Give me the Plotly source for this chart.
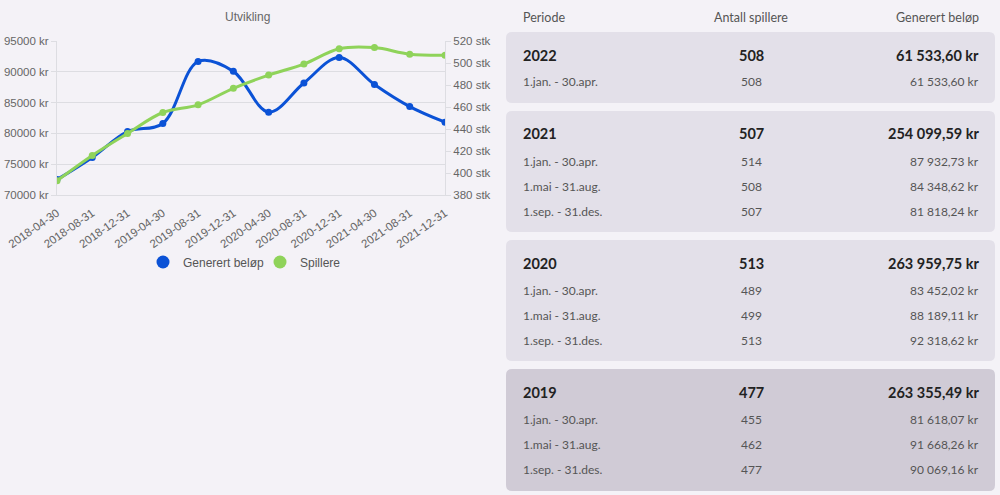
import plotly.graph_objects as go

# ---------------- data ----------------
periods = ["2018-04-30", "2018-08-31", "2018-12-31", "2019-04-30", "2019-08-31",
           "2019-12-31", "2020-04-30", "2020-08-31", "2020-12-31", "2021-04-30",
           "2021-08-31", "2021-12-31"]
belop = [72500, 76100, 80300, 81618.07, 91668.26, 90069.16, 83452.02,
         88189.11, 92318.62, 87932.73, 84348.62, 81818.24]
spillere = [393, 416, 436, 455, 462, 477, 489, 499, 513, 514, 508, 507]

table_headers = ["Periode", "Antall spillere", "Generert beløp"]
years = ["2022", "2021", "2020", "2019"]
year_players = ["508", "507", "513", "477"]
year_amounts = ["61 533,60 kr", "254 099,59 kr", "263 959,75 kr", "263 355,49 kr"]
sub_periods = [
    ["1.jan. - 30.apr."],
    ["1.jan. - 30.apr.", "1.mai - 31.aug.", "1.sep. - 31.des."],
    ["1.jan. - 30.apr.", "1.mai - 31.aug.", "1.sep. - 31.des."],
    ["1.jan. - 30.apr.", "1.mai - 31.aug.", "1.sep. - 31.des."],
]
sub_players = [["508"], ["514", "508", "507"], ["489", "499", "513"], ["455", "462", "477"]]
sub_amounts = [
    ["61 533,60 kr"],
    ["87 932,73 kr", "84 348,62 kr", "81 818,24 kr"],
    ["83 452,02 kr", "88 189,11 kr", "92 318,62 kr"],
    ["81 618,07 kr", "91 668,26 kr", "90 069,16 kr"],
]

# ---------------- styles ----------------
W, H = 1000, 495
BG = "#f4f2f7"
CARD = "#e3e0e9"
CARD_DARK = "#d0cbd6"
BLUE = "#0b52d6"
GREEN = "#8fd35a"
GRID = "#dddde2"
AXFONT = dict(family="Liberation Sans, Arial, sans-serif", size=11.5, color="#666666")
TFONT = "Lato, Inter, sans-serif"


def px(x):
    return x / W


def py(y):
    return 1 - y / H


fig = go.Figure()

fig.add_trace(go.Scatter(
    x=periods, y=spillere, name="Spillere", yaxis="y2", mode="lines+markers",
    line=dict(color=GREEN, width=3, shape="spline", smoothing=1.0),
    marker=dict(size=7, color=GREEN), showlegend=False))
fig.add_trace(go.Scatter(
    x=periods, y=belop, name="Generert beløp", mode="lines+markers",
    line=dict(color=BLUE, width=3, shape="spline", smoothing=1.0),
    marker=dict(size=7, color=BLUE), showlegend=False))
# legend entries (circle markers only)
fig.add_trace(go.Scatter(x=[None], y=[None], mode="markers", name="Generert beløp",
                         marker=dict(size=13, color=BLUE)))
fig.add_trace(go.Scatter(x=[None], y=[None], mode="markers", name="Spillere",
                         marker=dict(size=13, color=GREEN)))

fig.update_layout(
    width=W, height=H,
    margin=dict(l=0, r=0, t=0, b=0, pad=0),
    paper_bgcolor=BG, plot_bgcolor=BG,
    showlegend=True,
    legend=dict(orientation="h", x=px(260), xanchor="center", y=py(262), yanchor="middle",
                font=dict(family="Liberation Sans, Arial, sans-serif", size=12, color="#555555"),
                bgcolor="rgba(0,0,0,0)", itemwidth=30, entrywidth=72),
    xaxis=dict(domain=[px(57), px(445)], type="category", range=[0, len(periods) - 1],
               tickangle=-35, tickfont=AXFONT, showgrid=False, automargin=False,
               ticklabelstandoff=6,
               showline=True, linecolor=GRID, linewidth=1, ticks="", zeroline=False),
    yaxis=dict(domain=[py(195), py(41)], range=[70000, 95000], dtick=5000,
               tickformat="d", ticksuffix=" kr", tickfont=AXFONT, automargin=False,
               showgrid=True, gridcolor=GRID, gridwidth=1,
               showline=True, linecolor=GRID, ticks="outside", ticklen=5, tickcolor=GRID,
               zeroline=False),
    yaxis2=dict(overlaying="y", side="right", anchor="x", range=[380, 520], dtick=20,
                ticksuffix=" stk", tickfont=AXFONT, showgrid=False, automargin=False,
                showline=True, linecolor=GRID, ticks="outside", ticklen=5, tickcolor=GRID,
                zeroline=False),
    hovermode=False,
)

# chart title
annotations = [dict(text="Utvikling", x=px(247), y=py(17), xref="paper", yref="paper",
                    showarrow=False, xanchor="center", yanchor="middle",
                    font=dict(family="Liberation Sans, Arial, sans-serif", size=12, color="#666666"))]

# table header
col_x = [521, 751, 981]
col_anchor = ["left", "center", "right"]
for i, h in enumerate(table_headers):
    annotations.append(dict(text=h, x=px(col_x[i]), y=py(17), xref="paper", yref="paper",
                            showarrow=False, xanchor=col_anchor[i], yanchor="middle",
                            font=dict(family=TFONT, size=12.5, color="#555555")))

# cards
shapes = []
card_tops = [32, 111, 240, 369]
card_bottoms = [103, 232, 361, 491]
x0c, x1c, r = 506, 995, 6
for k, yr in enumerate(years):
    t, b = card_tops[k], card_bottoms[k]
    path = (f"M {px(x0c + r)} {py(t)} L {px(x1c - r)} {py(t)} "
            f"Q {px(x1c)} {py(t)} {px(x1c)} {py(t + r)} "
            f"L {px(x1c)} {py(b - r)} Q {px(x1c)} {py(b)} {px(x1c - r)} {py(b)} "
            f"L {px(x0c + r)} {py(b)} Q {px(x0c)} {py(b)} {px(x0c)} {py(b - r)} "
            f"L {px(x0c)} {py(t + r)} Q {px(x0c)} {py(t)} {px(x0c + r)} {py(t)} Z")
    shapes.append(dict(type="path", path=path, xref="paper", yref="paper",
                       fillcolor=CARD_DARK if k == 3 else CARD, line=dict(width=0), layer="below"))
    yrow = t + 23
    row_vals = [yr, year_players[k], year_amounts[k]]
    for i, v in enumerate(row_vals):
        annotations.append(dict(text=f"<b>{v}</b>", x=px(col_x[i]), y=py(yrow), xref="paper",
                                yref="paper", showarrow=False, xanchor=col_anchor[i],
                                yanchor="middle", font=dict(family=TFONT, size=14.5, color="#222222")))
    for j, sp in enumerate(sub_periods[k]):
        ys = t + 50 + j * 25
        vals = [sp, sub_players[k][j], sub_amounts[k][j]]
        for i, v in enumerate(vals):
            annotations.append(dict(text=v, x=px(col_x[i]), y=py(ys), xref="paper",
                                    yref="paper", showarrow=False, xanchor=col_anchor[i],
                                    yanchor="middle",
                                    font=dict(family=TFONT, size=12, color="#555555")))

fig.update_layout(annotations=annotations, shapes=shapes)

fig.write_html("out.html", config={"displayModeBar": False},
               post_script="document.body.style.margin='0';document.body.style.background='%s';" % BG)
